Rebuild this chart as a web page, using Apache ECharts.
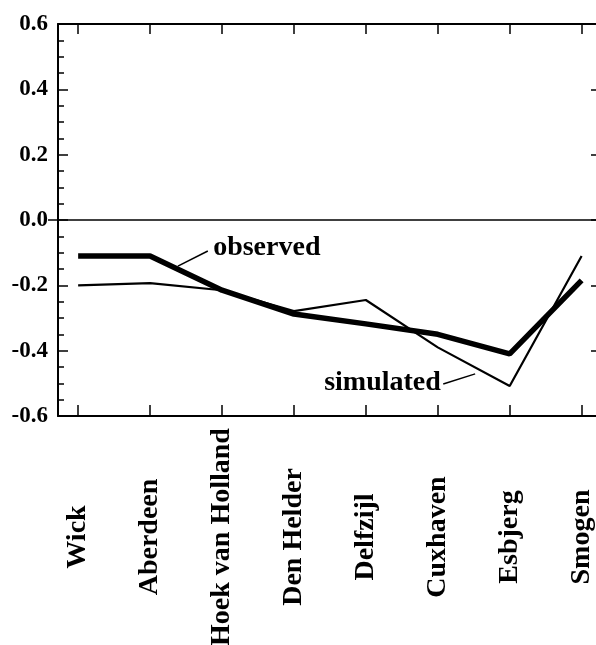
<!DOCTYPE html>
<html>
<head>
<meta charset="utf-8">
<script src="https://cdn.jsdelivr.net/npm/echarts@6/dist/echarts.min.js"></script>
<style>
html,body{margin:0;padding:0;background:#fff;}
#c{width:596px;height:645px;}
</style>
</head>
<body>
<div id="c"></div>
<script>
var categories = ['Wick', 'Aberdeen', 'Hoek van Holland', 'Den Helder', 'Delfzijl', 'Cuxhaven', 'Esbjerg', 'Smogen'];
var observed = [-0.11, -0.11, -0.215, -0.288, -0.318, -0.35, -0.41, -0.185];
var simulated = [-0.2, -0.193, -0.215, -0.279, -0.245, -0.39, -0.508, -0.11];

var idx = categories.map(function (c, i) { return i; });
function pairs(vals) { return vals.map(function (v, i) { return [i, v]; }); }

var FONT = '"Liberation Serif", "Times New Roman", serif';
var chart = echarts.init(document.getElementById('c'));

chart.setOption({
  animation: false,
  backgroundColor: '#fff',
  grid: { left: 58, right: 0, top: 24, bottom: 229, containLabel: false, outerBoundsMode: 'none' },
  xAxis: [{
    type: 'value', position: 'bottom', min: -0.28, max: 7.2,
    axisLine: { show: true, onZero: false, lineStyle: { color: '#000', width: 2 } },
    axisTick: { show: true, inside: true, length: 11, customValues: idx, lineStyle: { color: '#000', width: 1.5 } },
    axisLabel: {
      show: true, customValues: idx, rotate: 90, align: 'center', verticalAlign: 'middle', margin: 121,
      color: '#000', fontFamily: FONT, fontWeight: 'bold', fontSize: 28,
      formatter: function (v) { return categories[Math.round(v)]; }
    },
    splitLine: { show: false }
  }, {
    type: 'value', position: 'top', min: -0.28, max: 7.2,
    axisLine: { show: true, onZero: false, lineStyle: { color: '#000', width: 2 } },
    axisTick: { show: true, inside: true, length: 10, customValues: idx, lineStyle: { color: '#000', width: 1.5 } },
    axisLabel: { show: false },
    splitLine: { show: false }
  }],
  yAxis: [{
    type: 'value', position: 'left', min: -0.6, max: 0.6, interval: 0.2,
    axisLine: { show: true, onZero: false, lineStyle: { color: '#000', width: 2 } },
    axisTick: { show: true, inside: true, length: 10, lineStyle: { color: '#000', width: 1.5 } },
    minorTick: { show: true, splitNumber: 4, length: 6, lineStyle: { color: '#000', width: 1.5 } },
    axisLabel: {
      show: true, margin: 10, color: '#000', fontFamily: FONT, fontWeight: 'bold', fontSize: 23,
      formatter: function (v) { return v.toFixed(1); }
    },
    splitLine: { show: false }
  }, {
    type: 'value', position: 'right', min: -0.6, max: 0.6, interval: 0.2,
    axisLine: { show: false, onZero: false },
    axisTick: { show: true, inside: true, length: 5, lineStyle: { color: '#000', width: 1.5 } },
    axisLabel: { show: false },
    splitLine: { show: false }
  }],
  series: [{
    name: 'observed', type: 'line', data: pairs(observed),
    symbol: 'none', lineStyle: { color: '#000', width: 5.5 },
    markLine: {
      silent: true, symbol: 'none', label: { show: false },
      lineStyle: { color: '#000', width: 1.5, type: 'solid' },
      data: [
        [{ yAxis: 0, x: 48 }, { yAxis: 0, x: 596 }],
        [{ coord: [1.387, -0.141] }, { coord: [1.803, -0.095] }]
      ]
    },
    markPoint: {
      silent: true, symbol: 'rect', symbolSize: 1, itemStyle: { color: 'rgba(0,0,0,0)' },
      label: { show: true, position: 'right', distance: 0, color: '#000', fontFamily: FONT, fontWeight: 'bold', fontSize: 28, formatter: 'observed' },
      data: [{ coord: [1.87, -0.085] }]
    }
  }, {
    name: 'simulated', type: 'line', data: pairs(simulated),
    symbol: 'none', lineStyle: { color: '#000', width: 2.2 },
    markLine: {
      silent: true, symbol: 'none', label: { show: false },
      lineStyle: { color: '#000', width: 1.5, type: 'solid' },
      data: [
        [{ coord: [5.076, -0.502] }, { coord: [5.52, -0.471] }]
      ]
    },
    markPoint: {
      silent: true, symbol: 'rect', symbolSize: 1, itemStyle: { color: 'rgba(0,0,0,0)' },
      label: { show: true, position: 'left', distance: 0, color: '#000', fontFamily: FONT, fontWeight: 'bold', fontSize: 28, formatter: 'simulated' },
      data: [{ coord: [5.05, -0.497] }]
    }
  }]
});
</script>
</body>
</html>
